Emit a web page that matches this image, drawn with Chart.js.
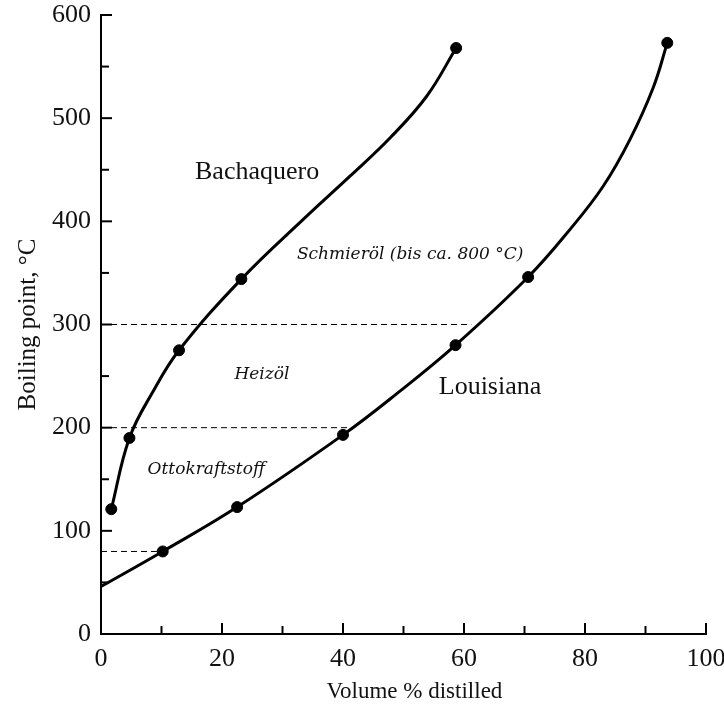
<!DOCTYPE html>
<html>
<head>
<meta charset="utf-8">
<script src="https://cdn.jsdelivr.net/npm/chart.js@4/dist/chart.umd.min.js"></script>
<style>
  html, body { margin: 0; padding: 0; background: #fff; }
  #wrap { width: 724px; height: 711px; }
</style>
</head>
<body>
<div id="wrap"><canvas id="myChart" width="724" height="711"></canvas></div>
<script>

// distillation curves: volume % distilled vs. boiling point (°C)
// measured points (drawn as dots)
const bachaqueroVol = [1.7, 4.7, 12.9, 23.2, 58.7];
const bachaqueroBp = [121, 190, 275, 344, 568];

const louisianaVol = [10.2, 22.5, 40.0, 58.6, 70.6, 93.6];
const louisianaBp = [80, 123, 193, 280, 346, 573];

// course of each curve between the dots
const bachaqueroCurveVol = [1.7, 4.7, 8.6, 12.9, 23.2, 34.0, 41.2, 47.8, 53.8, 58.7];
const bachaqueroCurveBp = [121, 190, 235, 275, 344, 405, 444, 481, 521, 568];

const louisianaCurveVol = [0, 10.2, 22.5, 40.0, 48.9, 58.6, 70.6, 77.5, 83.0, 87.4, 91.3, 93.6];
const louisianaCurveBp = [46, 80, 123, 193, 233, 280, 346, 392, 434, 479, 530, 573];

// fraction cut temperatures and how far the dashed line runs
const cutTemps = [80, 200, 300];
const cutEnds = [9.3, 40.7, 61.2];

// text placed inside the plot (x, y in data units)
const labelTexts = ['Bachaquero', 'Louisiana', 'Schmieröl (bis ca. 800 °C)', 'Heizöl', 'Ottokraftstoff'];
const labelX = [25.8, 64.3, 51.1, 26.6, 17.4];
const labelY = [448, 239, 368, 251, 159];
const labelItalic = [false, false, true, true, true];

const xTitle = 'Volume % distilled';
const yTitle = 'Boiling point, °C';

const serif = '"Liberation Serif", "Times New Roman", serif';
const italicFont = '"DejaVu Serif", serif';

function pairs (xs, ys) {
  return xs.map((x, i) => ({ x: x, y: ys[i] }));
}

function curve (label, xs, ys) {
  return {
    label: label,
    data: pairs(xs, ys),
    showLine: true,
    borderColor: '#000',
    borderWidth: 3,
    pointRadius: 0,
    pointHoverRadius: 0,
    tension: 0.4,
    fill: false
  };
}

function dots (label, xs, ys) {
  return {
    label: label,
    data: pairs(xs, ys),
    showLine: false,
    borderColor: '#000',
    backgroundColor: '#000',
    borderWidth: 1,
    pointRadius: 5.5,
    pointHoverRadius: 5.5
  };
}

const datasets = [
  curve('Bachaquero', bachaqueroCurveVol, bachaqueroCurveBp),
  curve('Louisiana', louisianaCurveVol, louisianaCurveBp),
  dots('Bachaquero points', bachaqueroVol, bachaqueroBp),
  dots('Louisiana points', louisianaVol, louisianaBp)
];

cutTemps.forEach((t, i) => {
  datasets.push({
    label: 'cut ' + t,
    data: [{ x: 0, y: t }, { x: cutEnds[i], y: t }],
    showLine: true,
    borderColor: '#000',
    borderWidth: 1,
    borderDash: [6, 4],
    pointRadius: 0,
    pointHoverRadius: 0
  });
});

// small tick marks pointing into the plot
const innerTicks = {
  id: 'innerTicks',
  afterDraw (chart) {
    const { ctx, scales: { x, y } } = chart;
    ctx.save();
    ctx.strokeStyle = '#000';
    ctx.lineWidth = 2;
    for (let v = 10; v <= 100; v += 10) {
      const px = x.getPixelForValue(v);
      const len = v % 20 === 0 ? 11 : 8;
      ctx.beginPath();
      ctx.moveTo(px, y.bottom);
      ctx.lineTo(px, y.bottom - len);
      ctx.stroke();
    }
    for (let v = 50; v <= 600; v += 50) {
      const py = y.getPixelForValue(v);
      const len = v % 100 === 0 ? 11 : 8;
      ctx.beginPath();
      ctx.moveTo(x.left, py);
      ctx.lineTo(x.left + len, py);
      ctx.stroke();
    }
    ctx.restore();
  }
};

// curve names, fraction names and the two axis titles
const plotLabels = {
  id: 'plotLabels',
  afterDatasetsDraw (chart) {
    const { ctx, scales: { x, y } } = chart;
    ctx.save();
    ctx.fillStyle = '#111';
    ctx.textAlign = 'center';
    ctx.textBaseline = 'middle';
    labelTexts.forEach((t, i) => {
      ctx.font = labelItalic[i] ? 'italic 17px ' + italicFont : '26px ' + serif;
      ctx.fillText(t, x.getPixelForValue(labelX[i]), y.getPixelForValue(labelY[i]));
    });

    ctx.font = '23px ' + serif;
    ctx.fillText(xTitle, x.getPixelForValue(51.8), 692);

    ctx.font = '25px ' + serif;
    ctx.translate(28, (y.top + y.bottom) / 2);
    ctx.rotate(-Math.PI / 2);
    ctx.fillText(yTitle, 0, 0);
    ctx.restore();
  }
};

// keep the plot box fixed, labels may overhang the edges
function noPad (scale) {
  scale.paddingLeft = 0;
  scale.paddingRight = 0;
  scale.paddingTop = 0;
  scale.paddingBottom = 0;
}

const ctx = document.getElementById('myChart');

const myChart = new Chart(ctx, {
  type: 'scatter',
  data: { datasets: datasets },
  options: {
    responsive: false,
    animation: false,
    events: [],
    layout: { padding: { top: 15, right: 18, left: 0, bottom: 0 } },
    plugins: {
      legend: false,
      tooltip: { enabled: false }
    },
    scales: {
      x: {
        type: 'linear',
        min: 0,
        max: 100,
        afterFit (scale) { scale.height = 77; noPad(scale); },
        border: { display: true, color: '#000', width: 2 },
        grid: { display: true, drawOnChartArea: false, drawTicks: false },
        ticks: {
          stepSize: 20,
          padding: 10,
          color: '#111',
          font: { family: serif, size: 26 }
        }
      },
      y: {
        type: 'linear',
        min: 0,
        max: 600,
        afterFit (scale) { scale.width = 101; noPad(scale); },
        border: { display: true, color: '#000', width: 2 },
        grid: { display: true, drawOnChartArea: false, drawTicks: false },
        ticks: {
          stepSize: 100,
          padding: 10,
          color: '#111',
          font: { family: serif, size: 26 }
        }
      }
    }
  },
  plugins: [innerTicks, plotLabels]
});
</script>
</body>
</html>
